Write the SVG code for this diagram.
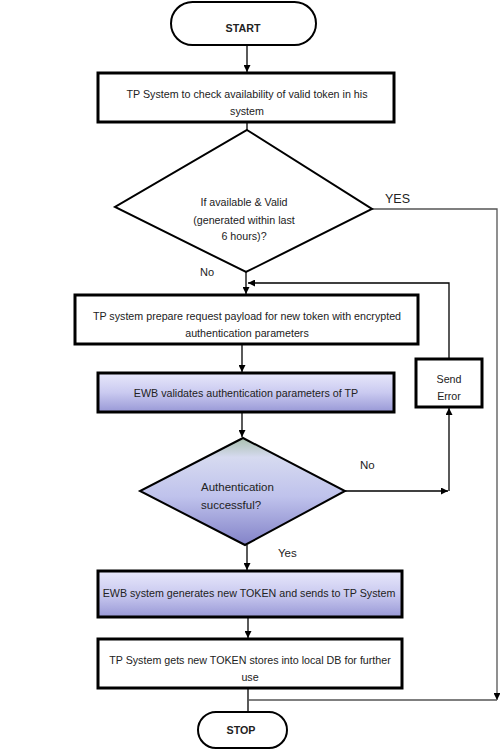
<svg xmlns="http://www.w3.org/2000/svg" width="500" height="750" viewBox="0 0 500 750">
<defs>
<linearGradient id="gBox" x1="0" y1="0" x2="0" y2="1">
<stop offset="0" stop-color="#e8e8fb"/>
<stop offset="0.5" stop-color="#cacaf0"/>
<stop offset="1" stop-color="#9898d6"/>
</linearGradient>
<linearGradient id="gDia" x1="0" y1="0" x2="0" y2="1">
<stop offset="0" stop-color="#a9bfae"/>
<stop offset="0.18" stop-color="#d6daf0"/>
<stop offset="0.55" stop-color="#bfc2ec"/>
<stop offset="1" stop-color="#8383c8"/>
</linearGradient>
<marker id="arr" viewBox="0 0 10 10" refX="10" refY="5" markerWidth="7" markerHeight="7" markerUnits="userSpaceOnUse" orient="auto">
<path d="M0,0 L10,5 L0,10 z" fill="#000"/>
</marker>
</defs>
<style>
.box{fill:#fff;stroke:#000;stroke-width:3}
.blue{fill:url(#gBox);stroke:#000;stroke-width:3}
.dia{fill:#fff;stroke:#000;stroke-width:2}
.t{font-family:"Liberation Sans",Arial,sans-serif;font-size:10.7px;fill:#222;text-anchor:middle}
.b{font-weight:bold}
.lbl{font-family:"Liberation Sans",Arial,sans-serif;fill:#222}
.c{fill:none;stroke:#000;stroke-width:1.3}
.g{fill:none;stroke:#555;stroke-width:1.3}
</style>
<g id="connectors">
<line class="c" x1="247" y1="45" x2="247" y2="72" marker-end="url(#arr)"/>
<line class="c" x1="247" y1="122" x2="247" y2="130"/>
<polyline class="g" points="372,209 497,209 497,700" marker-end="url(#arr)"/>
<line class="c" x1="246" y1="272" x2="246" y2="294" marker-end="url(#arr)"/>
<polyline class="c" points="449,359 449,283 248,283" marker-end="url(#arr)"/>
<line class="c" x1="242" y1="344" x2="242" y2="372" marker-end="url(#arr)"/>
<line class="c" x1="242" y1="412" x2="242" y2="437" marker-end="url(#arr)"/>
<line class="c" x1="345" y1="491" x2="448" y2="491" marker-end="url(#arr)"/>
<line class="c" x1="449" y1="491" x2="449" y2="408" marker-end="url(#arr)"/>
<line class="c" x1="247" y1="545" x2="247" y2="570" marker-end="url(#arr)"/>
<line class="c" x1="248" y1="617" x2="248" y2="638" marker-end="url(#arr)"/>
<line class="c" x1="248" y1="688" x2="248" y2="712"/>
<line class="g" x1="248" y1="700" x2="497" y2="700"/>
</g>
<g id="start">
<rect x="171" y="2" width="145" height="43" rx="21.5" fill="#fff" stroke="#000" stroke-width="2"/>
<text class="t b" x="243" y="32" font-size="9.5">START</text>
</g>
<g id="check">
<rect class="box" x="98" y="73" width="296" height="49"/>
<text class="t" x="247" y="98">TP System to check availability of valid token in his</text>
<text class="t" x="247" y="115">system</text>
</g>
<g id="valid">
<polygon class="dia" points="247,130 372,209 246,272 115,207"/>
<text class="t" x="244" y="206">If available &amp; Valid</text>
<text class="t" x="244" y="224">(generated within last</text>
<text class="t" x="244" y="240">6 hours)?</text>
<text class="lbl" x="385" y="203" font-size="12.5">YES</text>
<text class="lbl" x="200" y="276" font-size="11">No</text>
</g>
<g id="prepare">
<rect class="box" x="75" y="295" width="343" height="49"/>
<text class="t" x="247" y="320">TP system prepare request payload for new token with encrypted</text>
<text class="t" x="247" y="337">authentication parameters</text>
</g>
<g id="validates">
<rect class="blue" x="98" y="373" width="296" height="39"/>
<text class="t" x="246" y="397">EWB validates authentication parameters of TP</text>
</g>
<g id="senderror">
<rect class="box" x="416" y="359" width="66" height="48"/>
<text class="t" x="449" y="383">Send</text>
<text class="t" x="449" y="400">Error</text>
</g>
<g id="auth">
<polygon points="243,438 345,491 245,545 140,491" fill="url(#gDia)" stroke="#000" stroke-width="2"/>
<text class="lbl" x="201" y="491" font-size="11.5">Authentication</text>
<text class="lbl" x="201" y="509" font-size="11.5">successful?</text>
<text class="lbl" x="360" y="469" font-size="11.5">No</text>
<text class="lbl" x="278" y="557" font-size="11.5">Yes</text>
</g>
<g id="generate">
<rect class="blue" x="98" y="571" width="304" height="46"/>
<text class="t" x="249" y="597" font-size="10.3">EWB system generates new TOKEN and sends to TP System</text>
</g>
<g id="store">
<rect class="box" x="98" y="639" width="304" height="49"/>
<text class="t" x="250" y="664" font-size="10.4">TP System gets new TOKEN stores into local DB for further</text>
<text class="t" x="250" y="681" font-size="10.4">use</text>
</g>
<g id="stop">
<rect x="198" y="712" width="89" height="36" rx="18" fill="#fff" stroke="#000" stroke-width="2"/>
<text class="t b" x="241" y="734" font-size="9.5">STOP</text>
</g>
</svg>
